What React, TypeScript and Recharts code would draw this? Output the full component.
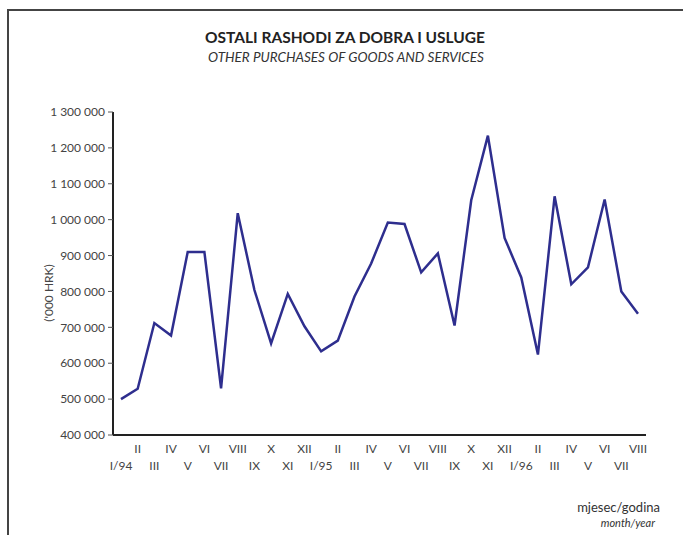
import React from "react";
import { LineChart, Line, XAxis, YAxis } from "recharts";

const months = [
  "I/94", "II", "III", "IV", "V", "VI", "VII", "VIII", "IX", "X", "XI", "XII",
  "I/95", "II", "III", "IV", "V", "VI", "VII", "VIII", "IX", "X", "XI", "XII",
  "I/96", "II", "III", "IV", "V", "VI", "VII", "VIII",
];

const values = [
  500000, 529000, 712000, 677000, 910000, 910000, 530000, 1018000, 804000, 655000, 793000, 703000,
  633000, 663000, 786000, 878000, 992000, 988000, 853000, 906000, 705000, 1054000, 1234000, 949000,
  839000, 624000, 1065000, 820000, 867000, 1056000, 800000, 738000,
];

const yTicks = [400000, 500000, 600000, 700000, 800000, 900000, 1000000, 1100000, 1200000, 1300000];

const data = months.map((m, i) => ({ key: i, label: m, value: values[i] }));

const FONT = "Lato, 'Open Sans', sans-serif";
const GREY = "#444";

const fmt = (v: number) => String(v).replace(/\B(?=(\d{3})+(?!\d))/g, " ");

function MonthTick(props: any) {
  const { x, y, payload, index } = props;
  const lower = index % 2 === 0;
  return (
    <text
      x={x}
      y={y}
      dy={lower ? 27 : 10}
      textAnchor="middle"
      fontSize={12}
      fontFamily={FONT}
      fill={GREY}
    >
      {months[payload.value]}
    </text>
  );
}

export default function App() {
  return (
    <div style={{ position: "absolute", left: 0, top: 0, width: 683, height: 535, background: "#fff", fontFamily: FONT }}>
      {/* frame */}
      <div style={{ position: "absolute", left: 7, top: 9, right: 0, bottom: 0, borderLeft: "2px solid #444", borderTop: "2px solid #444" }} />

      <div style={{ position: "absolute", left: 0, width: 690, top: 28, textAlign: "center", fontSize: 15.5, fontWeight: 700, color: "#222" }}>
        OSTALI RASHODI ZA DOBRA I USLUGE
      </div>
      <div style={{ position: "absolute", left: 0, width: 692, top: 49, textAlign: "center", fontSize: 13.5, fontStyle: "italic", color: "#333" }}>
        OTHER PURCHASES OF GOODS AND SERVICES
      </div>

      <div style={{ position: "absolute", left: 0, top: 0 }}>
        <LineChart width={683} height={535} data={data} margin={{ top: 112, right: 37, bottom: 0, left: 13 }}>
          <XAxis
            dataKey="key"
            type="category"
            height={100}
            padding={{ left: 8, right: 8 }}
            interval={0}
            axisLine={{ stroke: "#222", strokeWidth: 2 }}
            tickLine={false}
            tick={<MonthTick />}
          />
          <XAxis
            xAxisId="top"
            dataKey="key"
            orientation="top"
            height={0}
            tick={false}
            tickLine={false}
            axisLine={{ stroke: "#999", strokeWidth: 2 }}
          />
          <YAxis
            domain={[400000, 1300000]}
            ticks={yTicks}
            width={100}
            interval={0}
            tickSize={5}
            tickMargin={3}
            tickFormatter={fmt}
            axisLine={{ stroke: "#222", strokeWidth: 2 }}
            tickLine={{ stroke: "#555" }}
            tick={{ fontSize: 12, fill: GREY, fontFamily: FONT }}
          />
          <YAxis
            yAxisId="right"
            orientation="right"
            width={0}
            tick={false}
            tickLine={false}
            axisLine={{ stroke: "#333", strokeWidth: 2 }}
          />
          <Line
            dataKey="value"
            stroke="#2e2e8e"
            strokeWidth={2.5}
            dot={false}
            isAnimationActive={false}
          />
        </LineChart>
      </div>

      <div
        style={{
          position: "absolute", left: 48, top: 293, transform: "translate(-50%, -50%) rotate(-90deg)",
          whiteSpace: "nowrap", fontSize: 12, color: GREY,
        }}
      >
        ('000 HRK)
      </div>

      <div style={{ position: "absolute", right: 23, top: 499, fontSize: 13, color: "#333" }}>mjesec/godina</div>
      <div style={{ position: "absolute", right: 28, top: 516, fontSize: 11, fontStyle: "italic", color: "#333" }}>month/year</div>
    </div>
  );
}
